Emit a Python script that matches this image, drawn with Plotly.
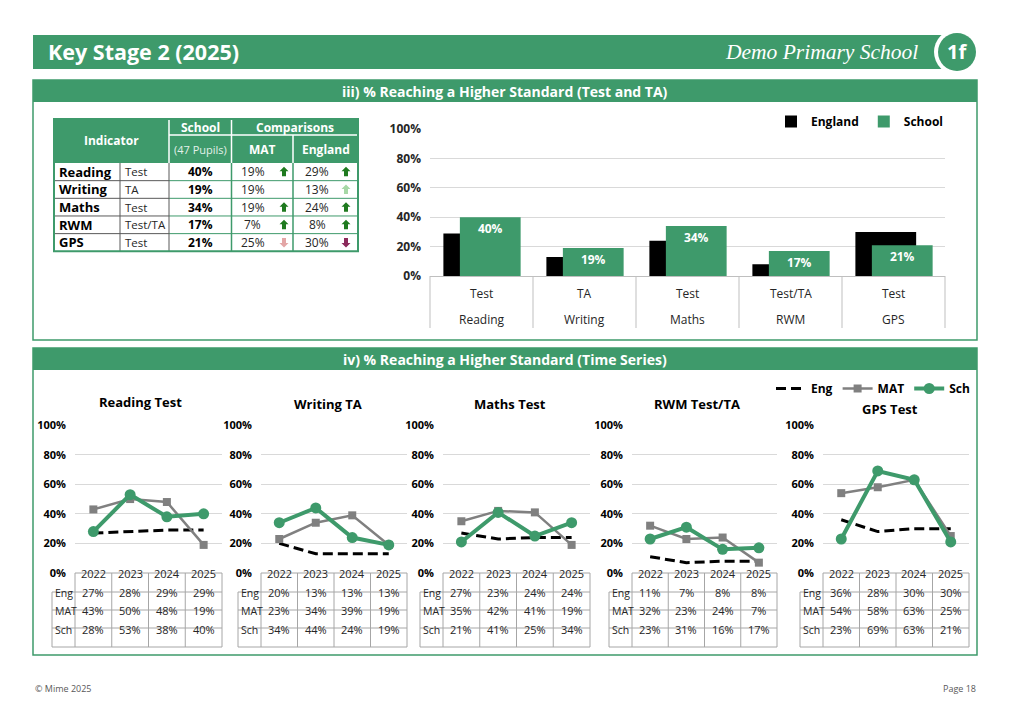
import plotly.graph_objects as go

# ---------------- data ----------------
subjects = ['Reading', 'Writing', 'Maths', 'RWM', 'GPS']
assess_types = ['Test', 'TA', 'Test', 'Test/TA', 'Test']
school_pct = [40, 19, 34, 17, 21]
mat_pct = [19, 19, 19, 7, 25]
england_pct = [29, 13, 24, 8, 30]
mat_trend = ['up_sig', '', 'up_sig', 'up_sig', 'down']
eng_trend = ['up_sig', 'up', 'up_sig', 'up_sig', 'down_sig']
pupils = 47

years = ['2022', '2023', '2024', '2025']
panel_titles = ['Reading Test', 'Writing TA', 'Maths Test', 'RWM Test/TA', 'GPS Test']
eng_ts = [[27, 28, 29, 29], [20, 13, 13, 13], [27, 23, 24, 24], [11, 7, 8, 8], [36, 28, 30, 30]]
mat_ts = [[43, 50, 48, 19], [23, 34, 39, 19], [35, 42, 41, 19], [32, 23, 24, 7], [54, 58, 63, 25]]
sch_ts = [[28, 53, 38, 40], [34, 44, 24, 19], [21, 41, 25, 34], [23, 31, 16, 17], [23, 69, 63, 21]]
row_labels = ['Eng', 'MAT', 'Sch']

# ---------------- styling / layout constants ----------------
W, H = 1012, 714
GREEN = '#3E9A6B'
FONT = 'Open Sans'
TXT = '#262626'
GRID = '#D9D9D9'
ARROW_COL = {'up_sig': '#1F7A1F', 'up': '#A6D8A6', 'down': '#E3A6A6', 'down_sig': '#8B2A5B'}


def fx(x):
    return x / W


def fy(y):
    return 1 - y / H


fig = go.Figure()
shapes = []
ann = []


def rect(x0, y0, x1, y1, fill=None, line=None, lw=0, **kw):
    shapes.append(dict(type='rect', xref='paper', yref='paper', x0=fx(x0), x1=fx(x1), y0=fy(y1), y1=fy(y0),
                       fillcolor=fill if fill else 'rgba(0,0,0,0)',
                       line=dict(color=line if line else 'rgba(0,0,0,0)', width=lw), **kw))


def hline(x0, x1, y, color, lw=1):
    shapes.append(dict(type='line', xref='paper', yref='paper', x0=fx(x0), x1=fx(x1), y0=fy(y), y1=fy(y),
                       line=dict(color=color, width=lw)))


def vline(x, y0, y1, color, lw=1):
    shapes.append(dict(type='line', xref='paper', yref='paper', x0=fx(x), x1=fx(x), y0=fy(y0), y1=fy(y1),
                       line=dict(color=color, width=lw)))


def text(x, y, s, size=12, color=TXT, bold=False, anchor='center', family=FONT, style='normal'):
    ann.append(dict(x=fx(x), y=fy(y), xref='paper', yref='paper', text=s, showarrow=False,
                    xanchor=anchor, yanchor='middle',
                    font=dict(size=size, color=color, family=family, weight='bold' if bold else 'normal',
                              style=style)))


def arrow(cx, cy, kind):
    if not kind:
        return
    s = 1 if kind.startswith('up') else -1
    pts = [(0, -5), (4.5, -0.5), (2, -0.5), (2, 4.5), (-2, 4.5), (-2, -0.5), (-4.5, -0.5)]
    path = 'M ' + ' L '.join(f'{fx(cx + dx)},{fy(cy + s * dy)}' for dx, dy in pts) + ' Z'
    shapes.append(dict(type='path', xref='paper', yref='paper', path=path,
                       fillcolor=ARROW_COL[kind], line=dict(width=0)))


# ---------------- page header ----------------
rect(33, 35, 948, 69, fill=GREEN)
shapes.append(dict(type='circle', xref='paper', yref='paper', x0=fx(934), x1=fx(980), y0=fy(75), y1=fy(29),
                   fillcolor='white', line=dict(width=0)))
shapes.append(dict(type='circle', xref='paper', yref='paper', x0=fx(938), x1=fx(976), y0=fy(71), y1=fy(33),
                   fillcolor=GREEN, line=dict(width=0)))
text(46, 52, 'Key Stage 2 (2025)', size=21.5, color='white', bold=True, anchor='left')
text(920, 52, 'Demo Primary School', size=21.5, color='white', anchor='right', family='Liberation Serif',
     style='italic')
text(957, 52, '1f', size=20, color='white', bold=True)

# ---------------- section boxes ----------------
rect(33, 80, 977, 340, line=GREEN, lw=1.5)
rect(33, 80, 977, 102, fill=GREEN)
text(505, 91, 'iii) % Reaching a Higher Standard (Test and TA)', size=14, color='white', bold=True)
rect(33, 348, 977, 655, line=GREEN, lw=1.5)
rect(33, 348, 977, 370, fill=GREEN)
text(505, 359, 'iv) % Reaching a Higher Standard (Time Series)', size=14, color='white', bold=True)

# ---------------- summary table ----------------
cols = [54, 120, 169, 231.5, 293, 358]
hdr = [119, 135, 163]
rh = 17.66
rows = [hdr[2] + i * rh for i in range(len(subjects) + 1)]
rect(cols[0], hdr[0], cols[5], hdr[2], fill=GREEN)
vline(cols[2], hdr[0], hdr[2], 'white', 1.5)
vline(cols[3], hdr[0], hdr[2], 'white', 1.5)
vline(cols[4], hdr[1], hdr[2], 'white', 1.5)
hline(cols[2], cols[5], hdr[1], 'white', 1.5)
text((cols[0] + cols[2]) / 2, (hdr[0] + hdr[2]) / 2, 'Indicator', size=12, color='white', bold=True)
text((cols[2] + cols[3]) / 2, (hdr[0] + hdr[1]) / 2, 'School', size=12, color='white', bold=True)
text((cols[3] + cols[5]) / 2, (hdr[0] + hdr[1]) / 2, 'Comparisons', size=12, color='white', bold=True)
text((cols[2] + cols[3]) / 2, (hdr[1] + hdr[2]) / 2, f'({pupils} Pupils)', size=11, color='#E4F1EA')
text((cols[3] + cols[4]) / 2, (hdr[1] + hdr[2]) / 2, 'MAT', size=12, color='white', bold=True)
text((cols[4] + cols[5]) / 2, (hdr[1] + hdr[2]) / 2, 'England', size=12, color='white', bold=True)
for i in range(1, len(subjects)):
    hline(cols[0], cols[2], rows[i], '#595959', 1)
    hline(cols[2], cols[5], rows[i], GREEN, 1)
vline(cols[1], rows[0], rows[-1], '#595959', 1)
vline(cols[2], rows[0], rows[-1], '#595959', 1)
vline(cols[3], rows[0], rows[-1], GREEN, 1.5)
vline(cols[4], rows[0], rows[-1], GREEN, 1.5)
rect(cols[0], hdr[0], cols[5], rows[-1], line=GREEN, lw=2)
for i, subj in enumerate(subjects):
    yc = (rows[i] + rows[i + 1]) / 2
    text(cols[0] + 3, yc, subj, size=13, bold=True, color='black', anchor='left')
    text(cols[1] + 3, yc, assess_types[i], size=11.5, anchor='left')
    text((cols[2] + cols[3]) / 2, yc, f'{school_pct[i]}%', size=12, bold=True, color='black')
    text(cols[3] + 21, yc, f'{mat_pct[i]}%', size=12)
    arrow(cols[4] - 9, yc, mat_trend[i])
    text(cols[4] + 24, yc, f'{england_pct[i]}%', size=12)
    arrow(cols[5] - 12, yc, eng_trend[i])

# ---------------- bar chart ----------------
BX0, BX1, BY0, BY1 = 430, 945, 129, 276
fig.add_trace(go.Bar(x=subjects, y=[v / 100 for v in england_pct], name='<b>England</b>',
                     marker=dict(color='black', line=dict(width=0)), width=0.59, offset=-0.37,
                     xaxis='x', yaxis='y', legend='legend', hoverinfo='skip'))
fig.add_trace(go.Bar(x=subjects, y=[v / 100 for v in school_pct], name='<b>School</b>',
                     marker=dict(color=GREEN, line=dict(width=0)), width=0.59, offset=-0.21,
                     texttemplate='%{y:.0%}', textposition='inside', insidetextanchor='end',
                     textfont=dict(color='white', size=12, family=FONT, weight='bold'),
                     xaxis='x', yaxis='y', legend='legend', hoverinfo='skip'))
for i in range(len(subjects) + 1):
    shapes.append(dict(type='line', xref='x domain', yref='paper', x0=i / len(subjects), x1=i / len(subjects),
                       y0=fy(BY1), y1=fy(328), line=dict(color='#BFBFBF', width=1)))
for i, subj in enumerate(subjects):
    ann.append(dict(x=i, xref='x', y=fy(293), yref='paper', text=assess_types[i], showarrow=False,
                    font=dict(size=12, color=TXT, family=FONT)))
    ann.append(dict(x=i, xref='x', y=fy(319), yref='paper', text=subj, showarrow=False,
                    font=dict(size=12, color=TXT, family=FONT)))

layout_axes = dict(
    xaxis=dict(domain=[fx(BX0), fx(BX1)], anchor='y', type='category', showticklabels=False, showgrid=False,
               showline=True, linecolor='#BFBFBF', zeroline=False, fixedrange=True, automargin=False),
    yaxis=dict(domain=[fy(BY1), fy(BY0)], anchor='x', range=[0, 1.001], tickvals=[0, .2, .4, .6, .8, 1],
               tickformat='.0%', showgrid=True, gridcolor=GRID, zeroline=False, ticklabelstandoff=8,
               tickfont=dict(size=12, color=TXT, family=FONT, weight='bold'), fixedrange=True,
               automargin=False),
)

# ---------------- time series panels ----------------
panel_left = [75, 261, 443, 632, 823]
panel_right = [222, 407, 590, 777, 969]
title_x = [140, 328, 510, 697, 890]
title_y = [402, 404, 404, 404, 409]
PY0, PY1 = 425, 573
table_rows = [573, 592, 610, 628, 647]
LABEL_W = 23
for k in range(len(panel_titles)):
    n = k + 2
    xa, ya = f'x{n}', f'y{n}'
    show = (k == 0)
    fig.add_trace(go.Scatter(x=years, y=[v / 100 for v in eng_ts[k]], name='<b>Eng</b>', mode='lines',
                             line=dict(color='black', width=3, dash='10px,5px'), xaxis=xa, yaxis=ya,
                             legend='legend2', showlegend=show, hoverinfo='skip'))
    fig.add_trace(go.Scatter(x=years, y=[v / 100 for v in mat_ts[k]], name='<b>MAT</b>', mode='lines+markers',
                             line=dict(color='#808080', width=2.5), marker=dict(symbol='square', size=8),
                             xaxis=xa, yaxis=ya, legend='legend2', showlegend=show, hoverinfo='skip'))
    fig.add_trace(go.Scatter(x=years, y=[v / 100 for v in sch_ts[k]], name='<b>Sch</b>', mode='lines+markers',
                             line=dict(color=GREEN, width=4), marker=dict(symbol='circle', size=11),
                             xaxis=xa, yaxis=ya, legend='legend2', showlegend=show, hoverinfo='skip'))
    L, R = panel_left[k], panel_right[k]
    layout_axes[f'xaxis{n}'] = dict(domain=[fx(L), fx(R)], anchor=ya, type='category', categoryarray=years,
                                    categoryorder='array', range=[-0.5, 3.5], showticklabels=False,
                                    showgrid=False, zeroline=False, showline=False, fixedrange=True,
                                    automargin=False)
    layout_axes[f'yaxis{n}'] = dict(domain=[fy(PY1), fy(PY0)], anchor=xa, range=[0, 1.001],
                                    tickvals=[0, .2, .4, .6, .8, 1], tickformat='.0%', showgrid=True,
                                    gridcolor=GRID, zeroline=False, ticklabelstandoff=8,
                                    tickfont=dict(size=11, color='black', family=FONT, weight='bold'),
                                    fixedrange=True, automargin=False)
    text(title_x[k], title_y[k], panel_titles[k], size=13, bold=True, color='black')
    # data table under each panel
    xr = f'x{n} domain'
    wl = LABEL_W / (R - L)
    TB = '#A6A6A6'
    shapes.append(dict(type='line', xref=xr, yref='paper', x0=0, x1=1, y0=fy(table_rows[0]), y1=fy(table_rows[0]),
                       line=dict(color=TB, width=1)))
    for yy in table_rows[1:]:
        shapes.append(dict(type='line', xref=xr, yref='paper', x0=-wl, x1=1, y0=fy(yy), y1=fy(yy),
                           line=dict(color=TB, width=1)))
    shapes.append(dict(type='line', xref=xr, yref='paper', x0=-wl, x1=-wl, y0=fy(table_rows[1]),
                       y1=fy(table_rows[-1]), line=dict(color=TB, width=1)))
    for j in range(len(years) + 1):
        shapes.append(dict(type='line', xref=xr, yref='paper', x0=j / len(years), x1=j / len(years),
                           y0=fy(table_rows[0]), y1=fy(table_rows[-1]), line=dict(color=TB, width=1)))
    for j, yr in enumerate(years):
        ann.append(dict(x=j, xref=xa, y=fy((table_rows[0] + table_rows[1]) / 2), yref='paper', text=yr,
                        showarrow=False, font=dict(size=11, color=TXT, family=FONT)))
    for r, series in enumerate([eng_ts[k], mat_ts[k], sch_ts[k]]):
        yc = fy((table_rows[r + 1] + table_rows[r + 2]) / 2)
        ann.append(dict(x=-wl + 1.5 / (R - L), xref=xr, xanchor='left', y=yc, yref='paper', text=row_labels[r],
                        showarrow=False, borderpad=0, font=dict(size=10.5, color=TXT, family=FONT)))
        for j in range(len(years)):
            ann.append(dict(x=j, xref=xa, y=yc, yref='paper', text=f'{series[j]}%', showarrow=False,
                            borderpad=0, font=dict(size=11, color=TXT, family=FONT)))

# ---------------- footer ----------------
text(33, 688, '© Mime 2025', size=9, color='#595959', anchor='left')
text(978, 688, 'Page 18', size=9, color='#595959', anchor='right')

fig.update_layout(
    width=W, height=H, margin=dict(l=0, r=0, t=0, b=0, pad=0, autoexpand=False),
    paper_bgcolor='white', plot_bgcolor='white',
    font=dict(family=FONT, color=TXT),
    barmode='overlay',
    shapes=shapes, annotations=ann,
    legend=dict(orientation='h', x=fx(948), xanchor='right', y=fy(107), yanchor='top',
                font=dict(size=12, color='black', family=FONT), bgcolor='rgba(0,0,0,0)', itemwidth=30,
                traceorder='normal'),
    legend2=dict(orientation='h', x=fx(975), xanchor='right', y=fy(374), yanchor='top',
                 font=dict(size=12, color='black', family=FONT), bgcolor='rgba(0,0,0,0)', itemwidth=30,
                 traceorder='normal', tracegroupgap=0),
    **layout_axes,
)

fig.write_html('out.html', config={'displayModeBar': False},
               post_script="document.body.style.margin='0';")
